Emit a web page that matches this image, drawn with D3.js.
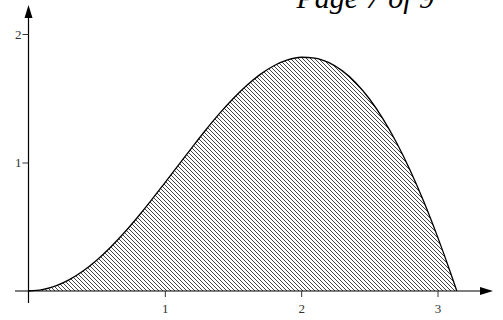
<!DOCTYPE html>
<html><head><meta charset="utf-8">
<script src="https://cdn.jsdelivr.net/npm/d3@7"></script>
<style>html,body{margin:0;padding:0;background:#fff;overflow:hidden}</style>
</head><body>
<svg id="c" width="503" height="320"></svg>
<script>
const xs = [0,0.1,0.2,0.3,0.4,0.5,0.6,0.7,0.8,0.9,1.0,1.1,1.2,1.3,1.4,1.5,1.6,1.7,1.8,1.9,2.0,2.1,2.2,2.3,2.4,2.5,2.6,2.7,2.8,2.9,3.0,3.1,3.1416];
const ys = [0,0.010,0.040,0.089,0.156,0.240,0.339,0.451,0.574,0.705,0.842,0.980,1.118,1.253,1.380,1.496,1.599,1.686,1.753,1.798,1.819,1.813,1.779,1.715,1.621,1.496,1.340,1.154,0.938,0.694,0.423,0.129,0];
const xTicks = [1,2,3];
const yTicks = [1,2];
const title = "Page 7 of 9";

const svg = d3.select("#c");
const x = d3.scaleLinear().domain([0,3]).range([28.5,437.5]);
const y = d3.scaleLinear().domain([0,2]).range([291,34]);

const defs = svg.append("defs");
const pat = defs.append("pattern").attr("id","hatch").attr("patternUnits","userSpaceOnUse")
  .attr("width",4).attr("height",4);
pat.append("path").attr("d","M-1,-1 L5,5 M-1,3 L1,5 M3,-1 L5,1")
  .attr("stroke","#444").attr("stroke-width",1);

const data = xs.map((v,i)=>[v,ys[i]]);
const area = d3.area().x(d=>x(d[0])).y0(y(0)).y1(d=>y(d[1])).curve(d3.curveMonotoneX);
const line = d3.line().x(d=>x(d[0])).y(d=>y(d[1])).curve(d3.curveMonotoneX);
svg.append("path").attr("d",area(data)).attr("fill","url(#hatch)");
svg.append("path").attr("d",line(data)).attr("fill","none").attr("stroke","#000").attr("stroke-width",1.3);

// axes lines with arrows
svg.append("line").attr("x1",15).attr("x2",482).attr("y1",y(0)).attr("y2",y(0)).attr("stroke","#000").attr("stroke-width",1.2);
svg.append("path").attr("d",`M493,${y(0)} L480,${y(0)-4} L480,${y(0)+4} Z`).attr("fill","#000");
svg.append("line").attr("x1",x(0)).attr("x2",x(0)).attr("y1",303).attr("y2",16).attr("stroke","#000").attr("stroke-width",1.2);
svg.append("path").attr("d",`M${x(0)},5 L${x(0)-4},18 L${x(0)+4},18 Z`).attr("fill","#000");

const gx = svg.append("g").attr("transform",`translate(0,${y(0)})`)
  .call(d3.axisBottom(x).tickValues(xTicks).tickSize(6).tickFormat(d3.format("d")));
gx.select(".domain").remove();
gx.selectAll("line").attr("stroke","#333");
gx.selectAll("text").attr("font-family","Liberation Serif").attr("font-size",13).attr("fill","#333").attr("y",13);

const gy = svg.append("g").attr("transform",`translate(${x(0)},0)`)
  .call(d3.axisLeft(y).tickValues(yTicks).tickSize(6).tickFormat(d3.format("d")));
gy.select(".domain").remove();
gy.selectAll("line").attr("stroke","#333");
gy.selectAll("text").attr("font-family","Liberation Serif").attr("font-size",13).attr("fill","#333").attr("x",-7);

svg.append("text").attr("x",434).attr("y",8).attr("text-anchor","end")
  .attr("font-family","Liberation Serif").attr("font-style","italic").attr("font-size",30)
  .attr("fill","#000").text(title);
</script>
</body></html>
